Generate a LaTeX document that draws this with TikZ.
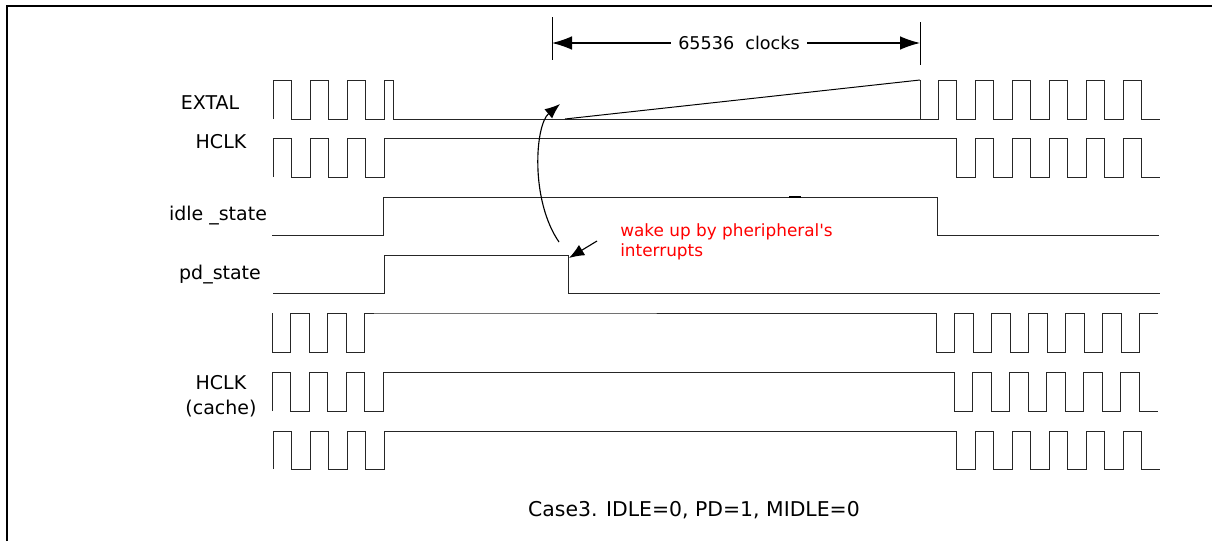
\documentclass[tikz,border=0pt]{standalone}
\usepackage{fontspec}
\setmainfont{DejaVu Sans}
\newfontfamily\plainfont{DejaVu Sans}
\usetikzlibrary{arrows.meta, positioning}

\begin{document}
\begin{tikzpicture}[
    x=0.025cm, y=-0.025cm,
    wave/.style={draw=black!85, line width=0.7pt},
    siglabel/.style={font=\fontsize{13.5}{16}\selectfont, inner sep=0pt},
    note/.style={font=\plainfont\fontsize{12}{14.5}\selectfont, text=red, align=left, anchor=north west, inner sep=0pt},
    pointer/.style={-{Latex[length=3.8mm,width=3mm]}, line width=0.8pt}
]
    \useasboundingbox (0,0) rectangle (1212,541);

    % Frame (only top and left edges are visible)
    \draw[line width=1.4pt] (6.7,541) -- (6.7,6.2) -- (1212,6.2);

    % Signal names
    \node[siglabel] (extal) at (210,103) {EXTAL};
    \node[siglabel] (hclk) at (221,142) {HCLK};
    \node[siglabel] (idle) at (218,216) {idle \_state};
    \node[siglabel] (pd) at (220,275) {pd\_state};
    \node[siglabel, align=center] (hclkc) at (221,396) {HCLK\\[2pt](cache)};

    % EXTAL: hi 80, lo 119
    \draw[wave] (273,119) foreach \x in {273,310,347} {
        -- (\x,80) -- (\x+18.5,80) -- (\x+18.5,119) -- (\x+37,119) }
        -- (384,80) -- (393,80) -- (393,119) -- (938,119)
        foreach \x in {938,975,1012,1049,1086,1123} {
        -- (\x,80) -- (\x+18.5,80) -- (\x+18.5,119) -- (\x+37,119) };
    \draw[wave] (920,80) -- (920,119);
    \draw[line width=0.7pt] (565,119) -- (920,80);

    % HCLK: hi 138, lo 177
    \draw[wave] (273,177) foreach \x in {273,310,347} {
        -- (\x,138) -- (\x+18.5,138) -- (\x+18.5,177) -- (\x+37,177) }
        -- (384,138) -- (956.5,138)
        foreach \x in {956.5,993.5,1030.5,1067.5,1104.5} {
        -- (\x,177) -- (\x+18.5,177) -- (\x+18.5,138) -- (\x+37,138) }
        -- (1141.5,177) -- (1160,177);

    % idle_state: hi 197, lo 235
    \draw[wave] (272,235) -- (383,235) -- (383,197) -- (937,197) -- (937,235) -- (1159,235);
    \draw[line width=1.6pt] (789,197) -- (801,197);

    % pd_state: hi 255, lo 293
    \draw[wave] (273,293) -- (384,293) -- (384,255) -- (568,255) -- (568,293) -- (1160,293);

    % clock 1: hi 313, lo 352
    \draw[wave] (272,313) foreach \x in {272,309,346} {
        -- (\x,352) -- (\x+18.5,352) -- (\x+18.5,313) -- (\x+37,313) }
        -- (936,313)
        foreach \x in {936,973,1010,1047,1084,1121} {
        -- (\x,352) -- (\x+18.5,352) -- (\x+18.5,313) -- (\x+37,313) };

    % clock 2: hi 372, lo 411
    \draw[wave] (272,411) foreach \x in {272,309,346} {
        -- (\x,372) -- (\x+18.5,372) -- (\x+18.5,411) -- (\x+37,411) }
        -- (383,372) -- (954,372)
        foreach \x in {954,991,1028,1065,1102} {
        -- (\x,411) -- (\x+18.5,411) -- (\x+18.5,372) -- (\x+37,372) }
        -- (1139,411) -- (1158,411);

    % clock 3: hi 431, lo 469
    \draw[wave] (273,469) foreach \x in {273,310,347} {
        -- (\x,431) -- (\x+18.5,431) -- (\x+18.5,469) -- (\x+37,469) }
        -- (384,431) -- (956.5,431)
        foreach \x in {956.5,993.5,1030.5,1067.5,1104.5} {
        -- (\x,469) -- (\x+18.5,469) -- (\x+18.5,431) -- (\x+37,431) }
        -- (1141.5,469) -- (1160,469);

    % 65536 clocks span
    \draw[line width=0.7pt] (552,17) -- (552,60);
    \draw[line width=0.7pt] (920,22) -- (920,65);
    \node[font=\fontsize{12.5}{15}\selectfont, inner sep=5pt] (span) at (739,43) {65536\ \ clocks};
    \coordinate (spanl) at (552,43);
    \coordinate (spanr) at (920,43);
    \draw[pointer, -{Latex[length=5mm,width=3.4mm]}] (span) -- (spanl);
    \draw[pointer, -{Latex[length=5mm,width=3.4mm]}] (span) -- (spanr);

    % wake-up
    \node[note] (wake) at (620,223) {wake up by pheripheral's\\interrupts};
    \coordinate (pdfall) at (569,258);
    \coordinate (wakefrom) at (597,241);
    \coordinate (curvefrom) at (559,242);
    \coordinate (ramp) at (560,104);
    \draw[pointer] (wakefrom) -- (pdfall);
    \draw[pointer] (curvefrom) .. controls (530,200) and (535,125) .. (ramp);

    % Caption
    \node[font=\fontsize{14.5}{17}\selectfont] (caption) at (694,510) {Case3. IDLE=0, PD=1, MIDLE=0};
\end{tikzpicture}
\end{document}
